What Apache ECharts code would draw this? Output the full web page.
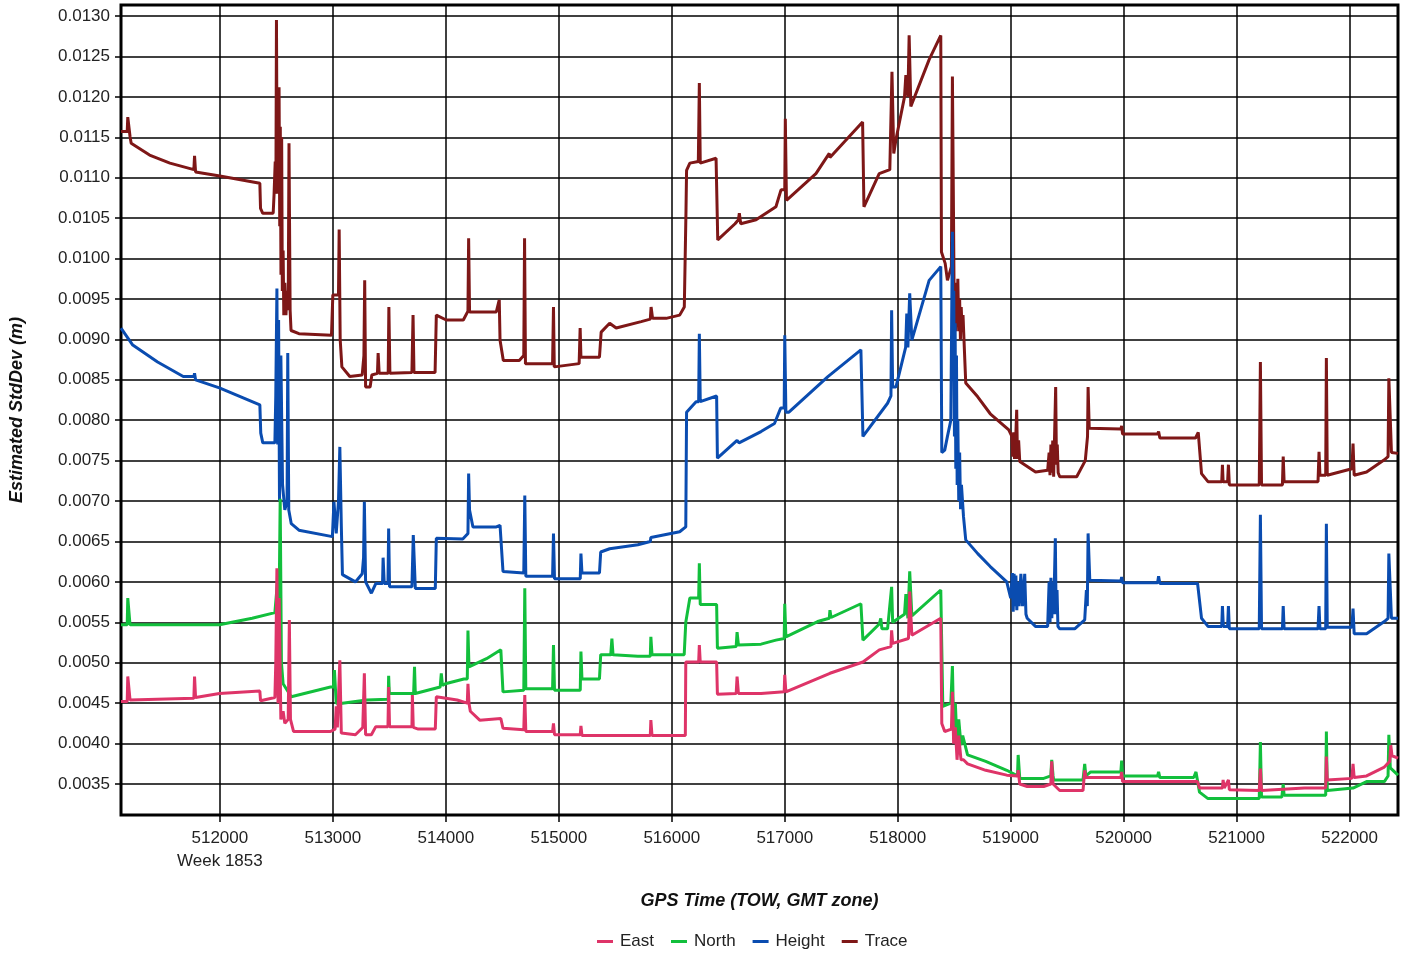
<!DOCTYPE html>
<html>
<head>
<meta charset="utf-8">
<script src="https://cdn.jsdelivr.net/npm/echarts@6/dist/echarts.min.js"></script>
<style>html,body{margin:0;padding:0;background:#fff;}#c{width:1403px;height:954px;}</style>
</head>
<body>
<div id="c"></div>
<script>
// ---- data (GPS time of week, estimated std dev in metres) ----
const xTicks = [512000, 513000, 514000, 515000, 516000, 517000, 518000, 519000, 520000, 521000, 522000];
const yTicks = [0.0035, 0.0040, 0.0045, 0.0050, 0.0055, 0.0060, 0.0065, 0.0070, 0.0075, 0.0080, 0.0085, 0.0090, 0.0095, 0.0100, 0.0105, 0.0110, 0.0115, 0.0120, 0.0125, 0.0130];
const weekLabel = 'Week 1853';

const trace = [
[511125,0.01157],[511180,0.01157],[511185,0.01175],[511200,0.01175],[511205,0.01151],[511215,0.011425],[511378,0.01128],[511558,0.01118],
[511770,0.01110],[511776,0.01127],[511785,0.01107],[512000,0.01102],[512354,0.01093],[512360,0.01062],[512380,0.01056],[512472,0.01056],
[512480,0.01080],[512490,0.01120],[512496,0.01080],[512501,0.01295],[512507,0.01100],[512513,0.01210],[512519,0.01080],[512524,0.01212],
[512530,0.01040],[512535,0.01163],[512541,0.00980],[512547,0.01150],[512553,0.00960],[512560,0.01010],[512566,0.00930],[512575,0.00970],
[512585,0.00930],[512595,0.00960],[512605,0.00936],[512612,0.011425],[512622,0.00936],[512630,0.00911],[512700,0.00907],
[512988,0.00905],[513000,0.00955],[513050,0.00955],[513056,0.01036],[513065,0.00900],[513080,0.00866],[513150,0.00854],[513260,0.00856],
[513275,0.00880],[513282,0.00973],[513290,0.00841],[513330,0.00841],[513345,0.00856],[513395,0.00858],[513401,0.00883],[513410,0.00858],
[513490,0.00858],[513496,0.00940],[513505,0.00858],[513700,0.00859],[513710,0.00930],[513718,0.00859],[513905,0.00859],[513916,0.00930],
[514004,0.00924],[514155,0.00924],[514196,0.00935],[514202,0.01025],[514210,0.00934],[514447,0.00934],[514473,0.00949],[514480,0.00899],
[514509,0.00874],[514650,0.00874],[514690,0.00880],[514697,0.01025],[514705,0.00870],[514945,0.00870],[514953,0.00940],[514960,0.00866],
[515180,0.00870],[515189,0.00914],[515196,0.00878],[515360,0.00878],[515375,0.00909],[515450,0.00920],[515508,0.00914],[515729,0.00922],
[515810,0.00925],[515817,0.00940],[515830,0.00926],[515950,0.00926],[516070,0.00930],[516111,0.00940],[516126,0.01060],[516131,0.01109],
[516160,0.01118],[516235,0.01120],[516244,0.01217],[516252,0.01118],[516392,0.01124],[516407,0.01023],[516560,0.01043],[516590,0.01048],
[516598,0.01056],[516610,0.01043],[516746,0.01048],[516922,0.01064],[516967,0.01085],[517000,0.01085],[517005,0.01173],[517015,0.01072],
[517026,0.01072],[517276,0.01105],[517394,0.01130],[517400,0.01125],[517689,0.01169],[517701,0.01064],[517836,0.01105],[517930,0.01110],
[517949,0.01231],[517965,0.01130],[517984,0.01147],[518060,0.01200],[518072,0.01227],[518090,0.01200],[518101,0.01276],[518116,0.01188],
[518278,0.01246],[518381,0.01276],[518387,0.01008],[518420,0.00994],[518440,0.00973],[518475,0.00990],[518484,0.01225],[518495,0.01031],
[518500,0.00930],[518505,0.00970],[518512,0.00910],[518518,0.00960],[518525,0.00920],[518532,0.00975],[518540,0.00910],[518548,0.00950],
[518555,0.00900],[518562,0.00940],[518570,0.00910],[518578,0.00930],[518584,0.00908],[518602,0.00846],[518708,0.00829],
[518819,0.00808],[518983,0.00788],[519010,0.00780],[519018,0.00755],[519026,0.00785],[519034,0.00752],[519045,0.00780],[519053,0.00813],
[519060,0.00752],[519070,0.00775],[519080,0.00749],[519220,0.00736],
[519327,0.00738],[519340,0.00760],[519348,0.00732],[519356,0.00770],[519364,0.00735],[519372,0.00775],[519380,0.00730],[519398,0.00841],
[519405,0.00745],[519412,0.00770],[519420,0.00735],[519434,0.00730],[519584,0.00730],[519660,0.00750],
[519680,0.00780],[519685,0.00841],[519695,0.00790],[519708,0.00790],[519975,0.00789],[519982,0.00793],[519990,0.00783],[520300,0.00783],
[520309,0.00786],[520320,0.00778],[520636,0.00778],[520660,0.00785],[520689,0.00734],[520746,0.00724],[520868,0.00724],[520874,0.00745],
[520880,0.00724],[520920,0.00724],[520927,0.00745],[520935,0.00720],[521200,0.00720],[521210,0.00872],[521220,0.00720],[521405,0.00720],
[521412,0.00755],[521420,0.00724],[521720,0.00724],[521729,0.00761],[521737,0.00732],[521788,0.00732],[521794,0.00877],[521802,0.00732],
[522020,0.00740],[522030,0.00771],[522040,0.00732],[522150,0.00736],[522307,0.00751],[522340,0.00755],[522347,0.00852],[522360,0.00852],
[522370,0.00760],[522428,0.00759]
];

const height = [
[511125,0.00914],[511229,0.00893],[511449,0.00872],[511676,0.00854],[511770,0.00854],[511776,0.00858],[511785,0.00850],[511996,0.00840],
[512354,0.00819],[512362,0.00784],[512380,0.00772],[512487,0.00772],[512495,0.00831],[512505,0.00963],[512512,0.00770],[512520,0.00924],
[512528,0.00700],[512540,0.00880],[512555,0.00720],[512575,0.00689],[512595,0.00700],[512601,0.00883],[512610,0.00689],[512632,0.00672],
[512700,0.00664],[512996,0.00656],[513010,0.00699],[513030,0.00660],[513050,0.00700],[513062,0.00767],[513075,0.00670],[513085,0.00609],
[513200,0.00600],[513260,0.00610],[513272,0.00630],[513279,0.00699],[513290,0.00600],[513341,0.00586],[513380,0.00598],[513440,0.00598],
[513445,0.00630],[513455,0.00598],[513488,0.00598],[513494,0.00666],[513502,0.00594],[513700,0.00594],[513712,0.00658],[513721,0.00658],
[513730,0.00592],[513907,0.00592],[513916,0.00654],[514150,0.00653],[514196,0.00660],[514202,0.00734],[514210,0.00689],[514240,0.00668],
[514447,0.00668],[514480,0.00670],[514506,0.00613],[514690,0.00611],[514699,0.00707],[514708,0.00607],[514945,0.00607],[514953,0.00660],
[514962,0.00604],[515190,0.00604],[515196,0.00635],[515205,0.00611],[515360,0.00611],[515371,0.00637],[515450,0.00641],[515700,0.00646],
[515810,0.00650],[515815,0.00655],[515825,0.00654],[516070,0.00662],[516124,0.00668],[516131,0.00810],[516215,0.00823],[516238,0.00823],
[516244,0.00907],[516252,0.00823],[516397,0.00830],[516404,0.00753],[516578,0.00775],[516595,0.00772],[516790,0.00786],[516909,0.00796],
[516964,0.00815],[516995,0.00815],[517000,0.00905],[517010,0.00810],[517037,0.00810],[517382,0.00854],[517674,0.00887],[517692,0.00780],
[517910,0.00821],[517940,0.00830],[517946,0.00936],[517955,0.00841],[517984,0.00841],[518070,0.00890],[518080,0.00932],[518090,0.00890],
[518106,0.00957],[518125,0.00899],[518278,0.00973],[518381,0.00990],[518390,0.00760],[518416,0.00763],[518440,0.00780],[518470,0.00800],
[518484,0.01033],[518490,0.00850],[518496,0.00960],[518502,0.00780],[518508,0.00920],[518514,0.00740],[518520,0.00880],[518526,0.00720],
[518532,0.00800],[518540,0.00700],[518548,0.00760],[518556,0.00690],[518564,0.00720],[518582,0.00681],
[518602,0.00652],[518708,0.00635],[518819,0.00619],[518965,0.00600],[519000,0.00580],[519010,0.00600],[519015,0.00611],[519022,0.00563],
[519030,0.00610],[519038,0.00570],[519046,0.00608],[519054,0.00565],[519062,0.00600],[519075,0.00570],[519090,0.00610],[519105,0.00570],
[519124,0.00610],[519135,0.00560],[519146,0.00555],[519219,0.00545],[519327,0.00545],[519340,0.00600],[519348,0.00550],[519356,0.00605],
[519364,0.00555],[519372,0.00600],[519380,0.00560],[519395,0.00654],[519402,0.00560],[519410,0.00590],
[519418,0.00545],[519434,0.00542],[519566,0.00542],[519655,0.00553],[519670,0.00590],[519678,0.00570],[519685,0.00660],[519700,0.00602],[519708,0.00601],
[519975,0.00601],[519982,0.00606],[519990,0.00599],[520300,0.00599],[520309,0.00607],[520320,0.00598],[520654,0.00598],[520689,0.00555],
[520746,0.00545],[520868,0.00545],[520874,0.00570],[520882,0.00545],[520920,0.00545],[520927,0.00570],[520935,0.00542],[521200,0.00542],
[521210,0.00683],[521220,0.00542],[521405,0.00542],[521412,0.00570],[521420,0.00542],[521720,0.00542],[521729,0.00570],[521737,0.00542],
[521788,0.00542],[521794,0.00672],[521802,0.00544],[522020,0.00544],[522030,0.00567],[522040,0.00536],[522150,0.00536],[522307,0.00551],
[522340,0.00555],[522347,0.00635],[522360,0.00635],[522370,0.00555],[522428,0.00555]
];

const north = [
[511125,0.00547],[511180,0.00547],[511185,0.00580],[511195,0.00580],[511205,0.00547],[511996,0.00547],[512286,0.00555],[512487,0.00562],
[512510,0.00600],[512525,0.00580],[512534,0.00703],[512545,0.00500],[512560,0.00474],[512632,0.00458],[512979,0.00470],[513005,0.00470],
[513014,0.00491],[513025,0.00491],[513030,0.00450],[513085,0.00450],[513300,0.00454],[513490,0.00455],[513494,0.00484],[513500,0.00462],
[513715,0.00462],[513723,0.00495],[513730,0.00462],[513950,0.00470],[513960,0.00487],[513970,0.00472],[513996,0.00474],[514160,0.00480],
[514190,0.00480],[514196,0.00540],[514205,0.00495],[514360,0.00505],[514487,0.00516],[514506,0.00464],[514690,0.00466],[514699,0.00592],
[514708,0.00468],[514945,0.00468],[514953,0.00522],[514962,0.00466],[515190,0.00466],[515196,0.00514],[515205,0.00480],[515360,0.00480],
[515371,0.00510],[515460,0.00510],[515470,0.00530],[515480,0.00510],[515700,0.00508],[515810,0.00508],[515815,0.00532],[515825,0.00510],
[516110,0.00510],[516124,0.00550],[516160,0.00580],[516238,0.00580],[516244,0.00623],[516252,0.00572],[516397,0.00572],[516404,0.00518],
[516570,0.00520],[516578,0.00538],[516590,0.00522],[516790,0.00523],[516922,0.00528],[516995,0.00530],[517000,0.00573],[517010,0.00532],
[517291,0.00551],[517394,0.00555],[517400,0.00565],[517410,0.00556],[517674,0.00573],[517692,0.00528],[517837,0.00548],[517850,0.00555],
[517860,0.00542],[517910,0.00542],[517946,0.00594],[517955,0.00550],[518060,0.00560],[518072,0.00585],[518090,0.00555],[518106,0.00613],
[518125,0.00558],[518381,0.00590],[518399,0.00446],[518416,0.00446],[518470,0.00450],[518484,0.00496],[518495,0.00420],[518510,0.00450],
[518525,0.00400],[518540,0.00430],[518560,0.00398],[518575,0.00410],[518618,0.00386],[518779,0.00378],[518965,0.00367],[519060,0.00360],
[519066,0.00386],[519080,0.00357],[519292,0.00357],[519355,0.00360],[519363,0.00380],[519375,0.00360],[519380,0.00355],[519640,0.00355],
[519655,0.00375],[519665,0.00360],[519708,0.00365],[519975,0.00365],[519982,0.00379],[519990,0.00360],[520300,0.00360],[520309,0.00365],
[520320,0.00358],[520620,0.00358],[520640,0.00365],[520671,0.00340],[520746,0.00332],[521200,0.00332],[521210,0.00402],[521220,0.00334],
[521400,0.00334],[521412,0.00350],[521420,0.00336],[521788,0.00336],[521794,0.00415],[521802,0.00342],[522030,0.00345],[522150,0.00353],
[522307,0.00353],[522340,0.00360],[522347,0.00411],[522360,0.00370],[522428,0.00361]
];

const east = [
[511125,0.00452],[511180,0.00452],[511185,0.00483],[511195,0.00483],[511205,0.00454],[511770,0.00456],[511776,0.00483],[511785,0.00457],
[511996,0.00462],[512354,0.00465],[512360,0.00453],[512487,0.00457],[512495,0.00500],[512505,0.00617],[512515,0.00450],[512525,0.00580],
[512540,0.00430],[512560,0.00440],[512575,0.00425],[512605,0.00430],[512615,0.00553],[512625,0.00430],[512652,0.00415],[512979,0.00415],
[513020,0.00418],[513030,0.00446],[513040,0.00420],[513062,0.00503],[513075,0.00413],[513200,0.00411],[513265,0.00420],[513279,0.00487],
[513290,0.00411],[513341,0.00411],[513380,0.00421],[513488,0.00421],[513494,0.00470],[513502,0.00421],[513700,0.00421],[513704,0.00460],
[513712,0.00420],[513756,0.00418],[513907,0.00418],[513916,0.00458],[514100,0.00454],[514190,0.00450],[514196,0.00474],[514205,0.00450],
[514217,0.00440],[514300,0.00429],[514487,0.00431],[514506,0.00419],[514690,0.00417],[514699,0.00460],[514708,0.00415],[514945,0.00415],
[514953,0.00425],[514962,0.00411],[515190,0.00411],[515196,0.00422],[515205,0.00410],[515810,0.00410],[515815,0.00429],[515825,0.00410],
[516120,0.00410],[516124,0.00501],[516238,0.00501],[516244,0.00522],[516252,0.00501],[516397,0.00501],[516404,0.00461],[516570,0.00462],
[516578,0.00483],[516590,0.00462],[516790,0.00462],[516995,0.00464],[517000,0.00485],[517010,0.00464],[517400,0.00487],[517692,0.00501],
[517837,0.00516],[517940,0.00520],[517946,0.00540],[517955,0.00524],[518095,0.00530],[518106,0.00588],[518125,0.00534],[518381,0.00555],
[518390,0.00425],[518416,0.00415],[518475,0.00418],[518484,0.00464],[518495,0.00400],[518510,0.00420],[518525,0.00380],[518540,0.00410],
[518560,0.00380],[518582,0.00380],[518618,0.00375],[518779,0.00367],[518965,0.00361],[519060,0.00360],[519066,0.00367],[519080,0.00350],
[519146,0.00347],[519292,0.00347],[519355,0.00350],[519363,0.00378],[519375,0.00350],[519434,0.00342],[519640,0.00342],[519655,0.00367],
[519665,0.00358],[519708,0.00358],[519975,0.00358],[519982,0.00365],[519990,0.00353],[520654,0.00353],[520671,0.00345],[520874,0.00345],
[520880,0.00355],[520890,0.00345],[520927,0.00355],[520935,0.00343],[521200,0.00342],[521210,0.00369],[521220,0.00342],[521600,0.00345],
[521788,0.00345],[521794,0.00384],[521802,0.00355],[522020,0.00357],[522030,0.00375],[522040,0.00358],[522150,0.00360],[522307,0.00371],
[522355,0.00378],[522364,0.00398],[522375,0.00385],[522428,0.00382]
];

const seriesNames = ['East', 'North', 'Height', 'Trace'];
const seriesColors = { East: '#de3468', North: '#12bf3c', Height: '#0a4cb0', Trace: '#7e1717' };
const seriesData = { East: east, North: north, Height: height, Trace: trace };

// ---- chart ----
const chart = echarts.init(document.getElementById('c'), null, { renderer: 'canvas' });
const FONT = 'Liberation Sans';
const drawOrder = ['Trace', 'Height', 'North', 'East'];

chart.setOption({
  animation: false,
  backgroundColor: '#fff',
  grid: {
    left: 119, top: 5, width: 1279, height: 810,
    show: true, borderColor: '#000', borderWidth: 3, backgroundColor: 'transparent'
  },
  legend: {
    data: seriesNames,
    top: 928,
    left: 592,
    icon: 'rect',
    itemWidth: 16,
    itemHeight: 3,
    itemGap: 17,
    textStyle: { fontFamily: FONT, fontSize: 17, color: '#222', padding: [0, 0, 0, 2] }
  },
  xAxis: {
    type: 'value',
    min: 511125,
    max: 522428,
    name: 'GPS Time (TOW, GMT zone)',
    nameLocation: 'middle',
    nameGap: 77,
    nameTextStyle: { fontFamily: FONT, fontSize: 18, fontWeight: 'bold', fontStyle: 'italic', color: '#111' },
    axisLine: { show: false },
    axisTick: { show: true, customValues: xTicks, length: 7, lineStyle: { color: '#000', width: 1.5 } },
    axisLabel: {
      customValues: xTicks,
      margin: 12,
      fontFamily: FONT, fontSize: 17, color: '#222', lineHeight: 23,
      formatter: v => v === xTicks[0] ? v + '\n' + weekLabel : String(v)
    },
    splitLine: { show: true, lineStyle: { color: '#000', width: 1.5 } }
  },
  yAxis: {
    type: 'value',
    min: 0.003117,
    max: 0.013136,
    name: 'Estimated StdDev (m)',
    nameLocation: 'middle',
    nameGap: 95,
    nameTextStyle: { fontFamily: FONT, fontSize: 18, fontWeight: 'bold', fontStyle: 'italic', color: '#111' },
    axisLine: { show: false },
    axisTick: { show: true, customValues: yTicks, length: 6, lineStyle: { color: '#000', width: 1.5 } },
    axisLabel: {
      customValues: yTicks,
      margin: 11,
      fontFamily: FONT, fontSize: 17, color: '#222',
      formatter: v => v.toFixed(4)
    },
    splitLine: { show: true, lineStyle: { color: '#000', width: 1.5 } }
  },
  series: drawOrder.map(n => ({
    name: n,
    type: 'line',
    data: seriesData[n],
    showSymbol: false,
    symbol: 'none',
    color: seriesColors[n],
    lineStyle: { color: seriesColors[n], width: 3, join: 'bevel' },
    emphasis: { disabled: true },
    z: 3
  }))
});
</script>
</body>
</html>
